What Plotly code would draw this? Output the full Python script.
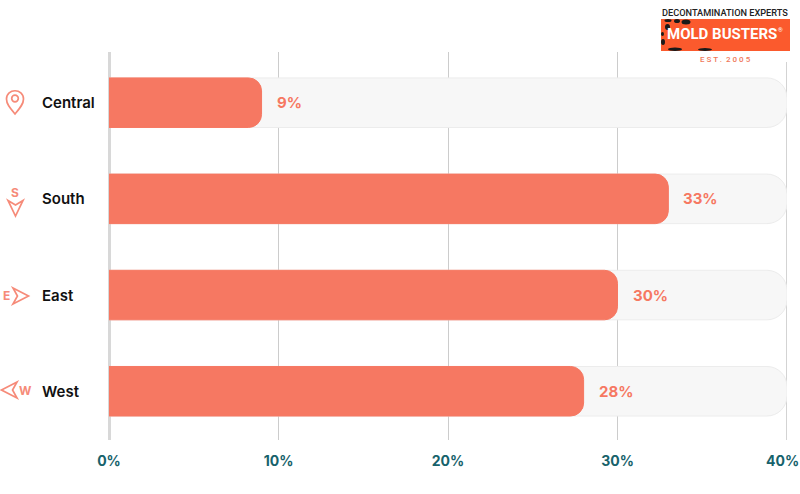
"""Share of mold problems by region, horizontal progress-style bars."""

import plotly.graph_objects as go

WIDTH = 800
HEIGHT = 494
LEFT, RIGHT, TOP, BOTTOM = 109, 787, 52, 440

regions = ["Central", "South", "East", "West"]
shares = [9, 33, 30, 28]
track_max = [40, 40, 40, 40]
x_ticks = [0, 10, 20, 30, 40]
x_tick_labels = ["0%", "10%", "20%", "30%", "40%"]

CORAL = "#f67862"
ICON = "#f68b79"
TEAL = "#17626b"
X_RANGE = [0, 40]
Y_RANGE = [3.507, -0.527]


def px(x):
    return (x - LEFT) / (RIGHT - LEFT)


def py(y):
    return 1 - (y - TOP) / (BOTTOM - TOP)


def pts(points, close=True):
    """Build an SVG path in paper coords from pixel points."""
    parts = [f"{'M' if i == 0 else 'L'} {px(x):.4f} {py(y):.4f}" for i, (x, y) in enumerate(points)]
    return " ".join(parts) + (" Z" if close else "")


def outline(points):
    return dict(type="path", xref="paper", yref="paper", path=pts(points),
                line=dict(color=ICON, width=1.7), fillcolor="rgba(0,0,0,0)")


def circle(cx, cy, rx, ry=None, fill="rgba(0,0,0,0)", line=None):
    ry = ry or rx
    return dict(type="circle", xref="paper", yref="paper",
                x0=px(cx - rx), x1=px(cx + rx), y0=py(cy + ry), y1=py(cy - ry),
                fillcolor=fill, line=line or dict(width=0))


def label(text, x, y, size, color, anchor="center", weight=700, family="Inter"):
    return dict(text=text, xref="paper", yref="paper", x=px(x), y=py(y),
                xanchor=anchor, yanchor="middle", showarrow=False,
                font=dict(family=family, size=size, color=color, weight=weight))


fig = go.Figure()

fig.add_trace(go.Bar(
    y=regions, x=track_max, orientation="h", width=0.515,
    marker=dict(color="#f7f7f7", line=dict(color="#ececec", width=1), cornerradius=20),
    hoverinfo="skip", showlegend=False,
))
# second axes pair: corner radius only sticks per subplot in overlay mode
fig.add_trace(go.Bar(
    y=regions, x=shares, orientation="h", width=0.515, xaxis="x2", yaxis="y2",
    marker=dict(color=CORAL, line=dict(color=CORAL, width=1), cornerradius=13),
    showlegend=False,
))

annotations = []
for region, share in zip(regions, shares):
    annotations.append(dict(
        text=f"{share}%", x=share, y=region, xref="x", yref="y",
        xanchor="left", yanchor="middle", xshift=13, showarrow=False,
        font=dict(family="Inter", size=15, color=CORAL, weight=700),
    ))
    annotations.append(dict(
        text=region, x=px(39.5), y=region, xref="paper", yref="y",
        xanchor="left", yanchor="middle", showarrow=False,
        font=dict(family="Inter", size=15, color="#111111", weight=600),
    ))

# compass letters next to the icons
annotations += [
    label("S", 15, 192, 12, ICON),
    label("E", 7, 295, 12, ICON),
    label("W", 25, 390, 12, ICON),
]

# last tick label would run off the page if centred on its tick
annotations.append(dict(
    text=x_tick_labels[-1], x=px(801), y=py(460), xref="paper", yref="paper",
    xanchor="right", yanchor="middle", showarrow=False,
    font=dict(family="Inter", size=14, color=TEAL, weight=700),
))

# logo text
annotations += [
    label("DECONTAMINATION EXPERTS", 725, 13, 9.2, "#222222", weight=500, family="Roboto"),
    label("MOLD BUSTERS", 722, 34, 15, "#ffffff", weight=700, family="Roboto"),
    label("®", 780, 30, 6, "#ffffff", weight=400, family="Roboto"),
    label("E S T .  2 0 0 5", 725, 59, 8, "#f0785a", weight=500, family="Roboto"),
]

shapes = [
    # plotly leaves out the gridline sitting on the range end
    dict(type="line", xref="x", yref="paper", x0=x_ticks[-1], x1=x_ticks[-1], y0=0, y1=1,
         line=dict(color="#c8c8c8", width=1.6), layer="below"),
    # white area behind the logo hides the top of the gridline
    dict(type="rect", xref="paper", yref="paper", x0=px(650), x1=px(800), y0=py(62), y1=py(0),
         fillcolor="#ffffff", line=dict(width=0)),
    dict(type="rect", xref="paper", yref="paper", x0=px(661), x1=px(790), y0=py(51), y1=py(19),
         fillcolor="#fb5a2d", line=dict(width=0)),
    # pin
    circle(15, 98.5, 3.3, line=dict(color=ICON, width=1.7)),
    dict(type="path", xref="paper", yref="paper",
         path=(f"M {px(15):.4f} {py(114):.4f} "
               f"C {px(10):.4f} {py(108):.4f} {px(6.5):.4f} {py(104):.4f} {px(6.5):.4f} {py(99):.4f} "
               f"C {px(6.5):.4f} {py(88):.4f} {px(23.5):.4f} {py(88):.4f} {px(23.5):.4f} {py(99):.4f} "
               f"C {px(23.5):.4f} {py(104):.4f} {px(20):.4f} {py(108):.4f} {px(15):.4f} {py(114):.4f} Z"),
         line=dict(color=ICON, width=1.7), fillcolor="rgba(0,0,0,0)"),
    # compass arrows
    outline([(8, 200.5), (15.5, 205), (23, 200.5), (15.5, 216)]),
    outline([(13, 288), (28.5, 296), (13, 304), (17.5, 296)]),
    outline([(1.5, 390), (17, 382), (12.5, 390), (17, 398)]),
]

# black blotches on the logo
for cx, cy, rx, ry in [(668, 20.5, 3.5, 1.5), (677, 21, 3, 2), (686, 22, 4.5, 2.5), (667.5, 27, 2.5, 3),
                       (662.5, 34, 1.5, 2), (663, 42, 2, 3), (675, 49.3, 7, 1.7),
                       (705, 49.5, 7, 1.5)]:
    shapes.append(circle(cx, cy, rx, ry, fill="#1a1a1a"))

fig.update_layout(
    width=WIDTH,
    height=HEIGHT,
    margin=dict(l=LEFT, r=WIDTH - RIGHT, t=TOP, b=HEIGHT - BOTTOM, pad=0),
    paper_bgcolor="#ffffff",
    plot_bgcolor="#ffffff",
    barmode="overlay",
    showlegend=False,
    shapes=shapes,
    annotations=annotations,
    xaxis=dict(
        range=X_RANGE,
        tickmode="array",
        tickvals=x_ticks[:-1],
        ticktext=x_tick_labels[:-1],
        showgrid=True,
        gridcolor="#cccccc",
        gridwidth=1.3,
        zeroline=True,
        zerolinecolor="#d8d8d8",
        zerolinewidth=2.5,
        showline=False,
        ticks="",
        ticklabelstandoff=11,
        tickfont=dict(family="Inter", size=14, color=TEAL, weight=700),
        automargin=False,
        fixedrange=True,
    ),
    yaxis=dict(
        type="category",
        categoryorder="array",
        categoryarray=regions,
        range=Y_RANGE,
        showticklabels=False,
        showgrid=False,
        zeroline=False,
        showline=False,
        ticks="",
        automargin=False,
        fixedrange=True,
    ),
    xaxis2=dict(range=X_RANGE, overlaying="x", visible=False, fixedrange=True),
    yaxis2=dict(type="category", categoryorder="array", categoryarray=regions,
                range=Y_RANGE, overlaying="y", visible=False, fixedrange=True),
)

# the browser's default body margin would push the chart 8px off
fig.write_html("out.html", config={"displayModeBar": False},
               post_script="document.body.style.margin = '0';")
